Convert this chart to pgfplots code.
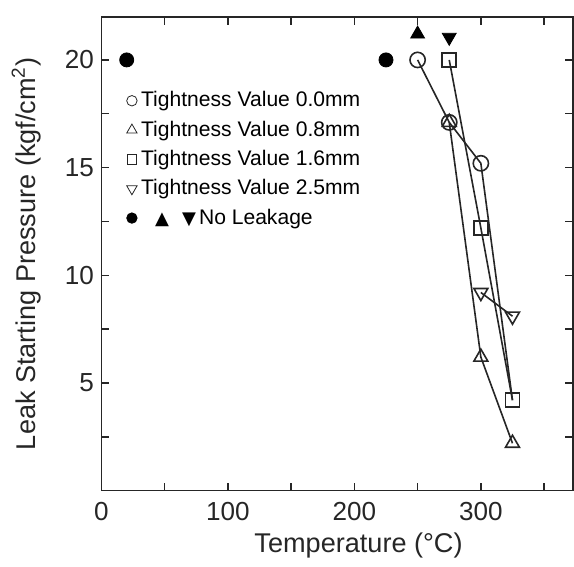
\documentclass[border={2.5pt 1pt 0pt 8pt}]{standalone}
\usepackage{pgfplots}
\pgfplotsset{compat=1.18}
\usepackage{fontspec}
\setmainfont{Liberation Sans}
\newfontfamily\sym{DejaVu Sans}
\begin{document}
\begin{tikzpicture}
\begin{axis}[
    scale only axis, width=235pt, height=236pt,
    xmin=0, xmax=373, ymin=0, ymax=22,
    xtick={0,100,200,300}, minor xtick={50,150,250,350},
    ytick={5,10,15,20}, minor ytick={2.5,7.5,12.5,17.5},
    tick align=inside, major tick length=4pt, minor tick length=4pt,
    axis line style={line width=0.8pt, black!85},
    every tick/.style={black!85, line width=0.7pt},
    tick label style={font=\fontsize{13}{13}\selectfont, black!85},
    yticklabel style={anchor=east, inner sep=0pt, xshift=-3.5pt},
    xticklabel style={yshift=-2.5pt},
    /pgf/number format/assume math mode=true,
    xlabel={Temperature (°C)},
    ylabel={Leak Starting Pressure (kgf/cm\textsuperscript{2})},
    label style={font=\fontsize{13.5}{14}\selectfont, black!85},
    xlabel style={at={(axis description cs:0.545,-0.116)}, anchor=center},
    ylabel style={at={(axis description cs:-0.159,0.5)}, anchor=center},
    legend style={at={(0.04,0.86)}, anchor=north west, draw=none, fill=none,
        font=\fontsize{10.5}{12}\selectfont, row sep=1.5pt},
    legend cell align=left,
]
% data series
\addplot[forget plot, black!85, line width=0.8pt, mark=o, mark size=3.8pt, mark indices={1,2,3}]
    coordinates {(250,20) (275,17.1) (300,15.2) (325,4.2)};
\addplot[forget plot, black!85, line width=0.8pt, mark=triangle, mark size=4pt]
    coordinates {(275,17.1) (300,6.2) (325,2.2)};
\addplot[forget plot, black!85, line width=0.8pt, mark=square, mark size=3.5pt]
    coordinates {(275,20) (300,12.2) (325,4.2)};
\addplot[forget plot, black!85, line width=0.8pt, mark=triangle, mark size=4pt, mark options={rotate=180}]
    coordinates {(300,9.2) (325,8.1)};
% no leakage
\addplot[forget plot, only marks, black, mark=*, mark size=3.5pt]
    coordinates {(20,20) (225,20)};
\addplot[forget plot, only marks, black, mark=triangle*, mark size=4pt]
    coordinates {(250,21.2)};
\addplot[forget plot, only marks, black, mark=triangle*, mark size=4pt, mark options={rotate=180}]
    coordinates {(275,21.05)};
% legend
\addlegendimage{only marks, black!85, mark=o, mark size=2.6pt}
\addlegendentry{Tightness Value 0.0mm}
\addlegendimage{only marks, black!85, mark=triangle, mark size=3pt}
\addlegendentry{Tightness Value 0.8mm}
\addlegendimage{only marks, black!85, mark=square, mark size=2.4pt}
\addlegendentry{Tightness Value 1.6mm}
\addlegendimage{only marks, black!85, mark=triangle, mark size=3pt, mark options={rotate=180}}
\addlegendentry{Tightness Value 2.5mm}
\addlegendimage{only marks, black, mark=*, mark size=2.6pt}
\addlegendentry{\hspace{7pt}{\sym\fontsize{9}{9}\selectfont ▲}\hspace{6.5pt}{\sym\fontsize{9}{9}\selectfont ▼}\hspace{1.5pt}No Leakage}
\end{axis}
\end{tikzpicture}
\end{document}
